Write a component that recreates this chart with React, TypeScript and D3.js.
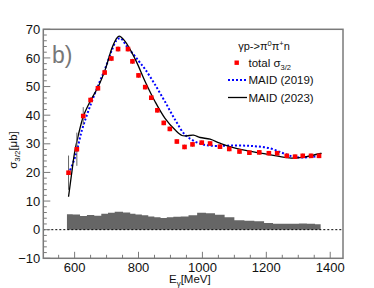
import React from 'react';
import * as d3 from 'd3';

const width = 374;
const height = 288;

// measured points: E_gamma [MeV], sigma_3/2 [ub], stat error
const energies = [581, 607, 627, 650, 673, 694, 715, 736, 767, 781, 800, 821, 840, 859, 879, 898, 920, 944, 969, 998, 1024, 1055, 1084, 1116, 1147, 1178, 1208, 1234, 1264, 1290, 1314, 1340, 1365];
const sigma = [19.9, 28.1, 39.7, 45.3, 49.4, 54.9, 59.8, 63.1, 63.1, 58.8, 53.9, 49.8, 46.1, 41.7, 37.3, 35.2, 30.8, 28.9, 29.8, 30.4, 30.1, 29.0, 28.2, 27.3, 26.9, 27.0, 26.7, 26.7, 25.8, 25.5, 25.8, 25.8, 25.8];
const statErr = [6, 5.8, 3.1, 0.9, 0.9, 0.9, 0.9, 0.9, 0.9, 0.9, 0.8, 0.8, 0.8, 0.8, 0.8, 0.8, 0.8, 0.8, 0.8, 0.8, 0.8, 0.8, 0.8, 0.8, 0.8, 0.8, 0.8, 0.8, 0.8, 0.8, 0.8, 0.8, 0.8];
// systematic error band (grey histogram)
const sysErr = [5.4, 5.3, 4.8, 5.1, 4.9, 5.6, 5.9, 6.3, 6.0, 5.6, 5.3, 5.0, 4.6, 4.3, 4.1, 4.3, 4.5, 4.6, 5.0, 5.9, 5.7, 5.2, 4.3, 3.3, 3.1, 2.9, 2.3, 2.1, 2.1, 2.1, 2.2, 2.1, 1.9];
const histStart = 576;
const histEnd = 1370;

// MAID (2019)
const maid2019E = [581, 602, 623, 644, 670, 696, 717, 732, 743, 764, 800, 821, 852, 883, 915, 946, 977, 1000, 1030, 1100, 1160, 1212, 1253, 1284, 1316, 1368];
const maid2019S = [19.5, 25.5, 34.8, 41.8, 49.4, 56.4, 62.8, 66.3, 66.9, 64.0, 59.0, 56.0, 50.6, 44.7, 38.3, 33.1, 30.8, 29.8, 29.3, 29.4, 29.2, 28.4, 26.7, 25.5, 25.2, 25.8];
// MAID (2023)
const maid2023E = [581, 590, 600, 612, 628, 649, 675, 696, 717, 730, 739, 758, 790, 821, 852, 883, 915, 936, 951, 972, 993, 1024, 1055, 1086, 1139, 1201, 1264, 1290, 1326, 1373];
const maid2023S = [11.5, 19, 27, 33.2, 39.8, 44.9, 50.2, 56, 63.5, 66.6, 67.6, 65.8, 59.5, 51.7, 44.7, 38.9, 34.8, 32.9, 32.8, 33.0, 32.2, 31.6, 30.2, 29.0, 27.6, 26.4, 25.2, 25.0, 25.5, 26.7];

const xTicks = [600, 800, 1000, 1200, 1400];
const yTicks = [-10, 0, 10, 20, 30, 40, 50, 60, 70];

const left = 43.3, right = 343, top = 29.3, bottom = 258.3;
const x = d3.scaleLinear().domain([502, 1440]).range([left, right]);
const y = d3.scaleLinear().domain([-10, 70]).range([bottom, top]);

const font = 'Liberation Sans, Arial, Helvetica, sans-serif';
const frameColor = '#7a7a7a';

export default function App() {
  const line = d3.line<[number, number]>()
    .x((d) => x(d[0]))
    .y((d) => y(d[1]))
    .curve(d3.curveCatmullRom.alpha(0.5));

  const blue = line(maid2019E.map((e, i) => [e, maid2019S[i]]));
  const black = line(maid2023E.map((e, i) => [e, maid2023S[i]]));

  // bin edges halfway between points
  const edges = [histStart];
  for (let i = 1; i < energies.length; i++) edges.push((energies[i - 1] + energies[i]) / 2);
  edges.push(histEnd);
  const histPts: [number, number][] = [[edges[0], 0]];
  sysErr.forEach((v, i) => {
    histPts.push([edges[i], v]);
    histPts.push([edges[i + 1], v]);
  });
  histPts.push([edges[edges.length - 1], 0]);
  const histPath = d3.line<[number, number]>().x((d) => x(d[0])).y((d) => y(d[1]))(histPts);

  const xMinor = d3.range(550, 1440, 50);
  const yMinor = d3.range(-10, 70.1, 2);

  return (
    <svg width={width} height={height} style={{ position: 'absolute', left: 0, top: 0, background: '#fff' }}>
      <rect x={0} y={0} width={width} height={height} fill="#fff" />
      <path d={histPath || ''} fill="#666" stroke="none" />
      <line x1={left} x2={right} y1={y(0)} y2={y(0)} stroke="#000" strokeWidth={1} strokeDasharray="2,2" />

      {/* axes ticks */}
      {yMinor.map((v) => (
        <line key={'ym' + v} x1={left} x2={left + (v % 10 === 0 ? 7 : 3.5)} y1={y(v)} y2={y(v)} stroke={frameColor} strokeWidth={1} />
      ))}
      {xMinor.map((v) => (
        <line key={'xm' + v} x1={x(v)} x2={x(v)} y1={bottom} y2={bottom - (v % 200 === 0 ? 6.5 : 3.5)} stroke={frameColor} strokeWidth={1} />
      ))}
      {yTicks.map((v) => (
        <text key={'yl' + v} x={left - 3} y={y(v)} dy="0.36em" textAnchor="end" fontFamily={font} fontSize={13} fill="#111">
          {v < 0 ? '\u2212' + Math.abs(v) : v}
        </text>
      ))}
      {xTicks.map((v) => (
        <text key={'xl' + v} x={x(v)} y={271.5} textAnchor="middle" fontFamily={font} fontSize={13} fill="#111">
          {v}
        </text>
      ))}

      {/* curves */}
      <path d={blue || ''} fill="none" stroke="#0000ff" strokeWidth={2} strokeDasharray="2,2" />
      <path d={black || ''} fill="none" stroke="#000" strokeWidth={1.3} />

      {/* data */}
      {energies.map((e, i) => (
        <line key={'e' + i} x1={x(e)} x2={x(e)} y1={y(sigma[i] - statErr[i])} y2={y(sigma[i] + statErr[i])} stroke="#666" strokeWidth={1} />
      ))}
      {energies.map((e, i) => (
        <rect key={'p' + i} x={x(e) - 2.3} y={y(sigma[i]) - 2.3} width={4.6} height={4.6} fill="#ff0000" />
      ))}

      {/* frame */}
      <rect x={left} y={top} width={right - left} height={bottom - top} fill="none" stroke={frameColor} strokeWidth={1.5} />

      <text x={52} y={63} fontFamily={font} fontSize={23} fill="#777">b)</text>

      {/* legend */}
      <text x={264} y={50} textAnchor="middle" fontFamily={font} fontSize={11} fill="#111">
        γp-&gt;π<tspan dy={-4} fontSize={7.5}>0</tspan><tspan dy={4}>π</tspan><tspan dy={-4} fontSize={7.5}>+</tspan><tspan dy={4}>n</tspan>
      </text>
      <rect x={234.5} y={60.5} width={4.4} height={4.4} fill="#ff0000" />
      <text x={248.5} y={67} fontFamily={font} fontSize={11.5} fill="#111">
        total σ<tspan dy={3} fontSize={7.5}>3/2</tspan>
      </text>
      <line x1={228} x2={247} y1={80} y2={80} stroke="#0000ff" strokeWidth={2} strokeDasharray="2,2" />
      <text x={248.5} y={84} fontFamily={font} fontSize={11.5} fill="#111">MAID (2019)</text>
      <line x1={228} x2={247} y1={97.5} y2={97.5} stroke="#000" strokeWidth={1.3} />
      <text x={248.5} y={101.5} fontFamily={font} fontSize={11.5} fill="#111">MAID (2023)</text>

      {/* axis titles */}
      <text transform="translate(17,150) rotate(-90)" textAnchor="middle" fontFamily={font} fontSize={11.5} fill="#111">
        σ<tspan dy={3} fontSize={8}>3/2</tspan><tspan dy={-3}>[μb]</tspan>
      </text>
      <text x={169} y={283} fontFamily={font} fontSize={11.5} fill="#111">
        E<tspan dy={3} fontSize={8}>γ</tspan><tspan dy={-3}>[MeV]</tspan>
      </text>
    </svg>
  );
}
